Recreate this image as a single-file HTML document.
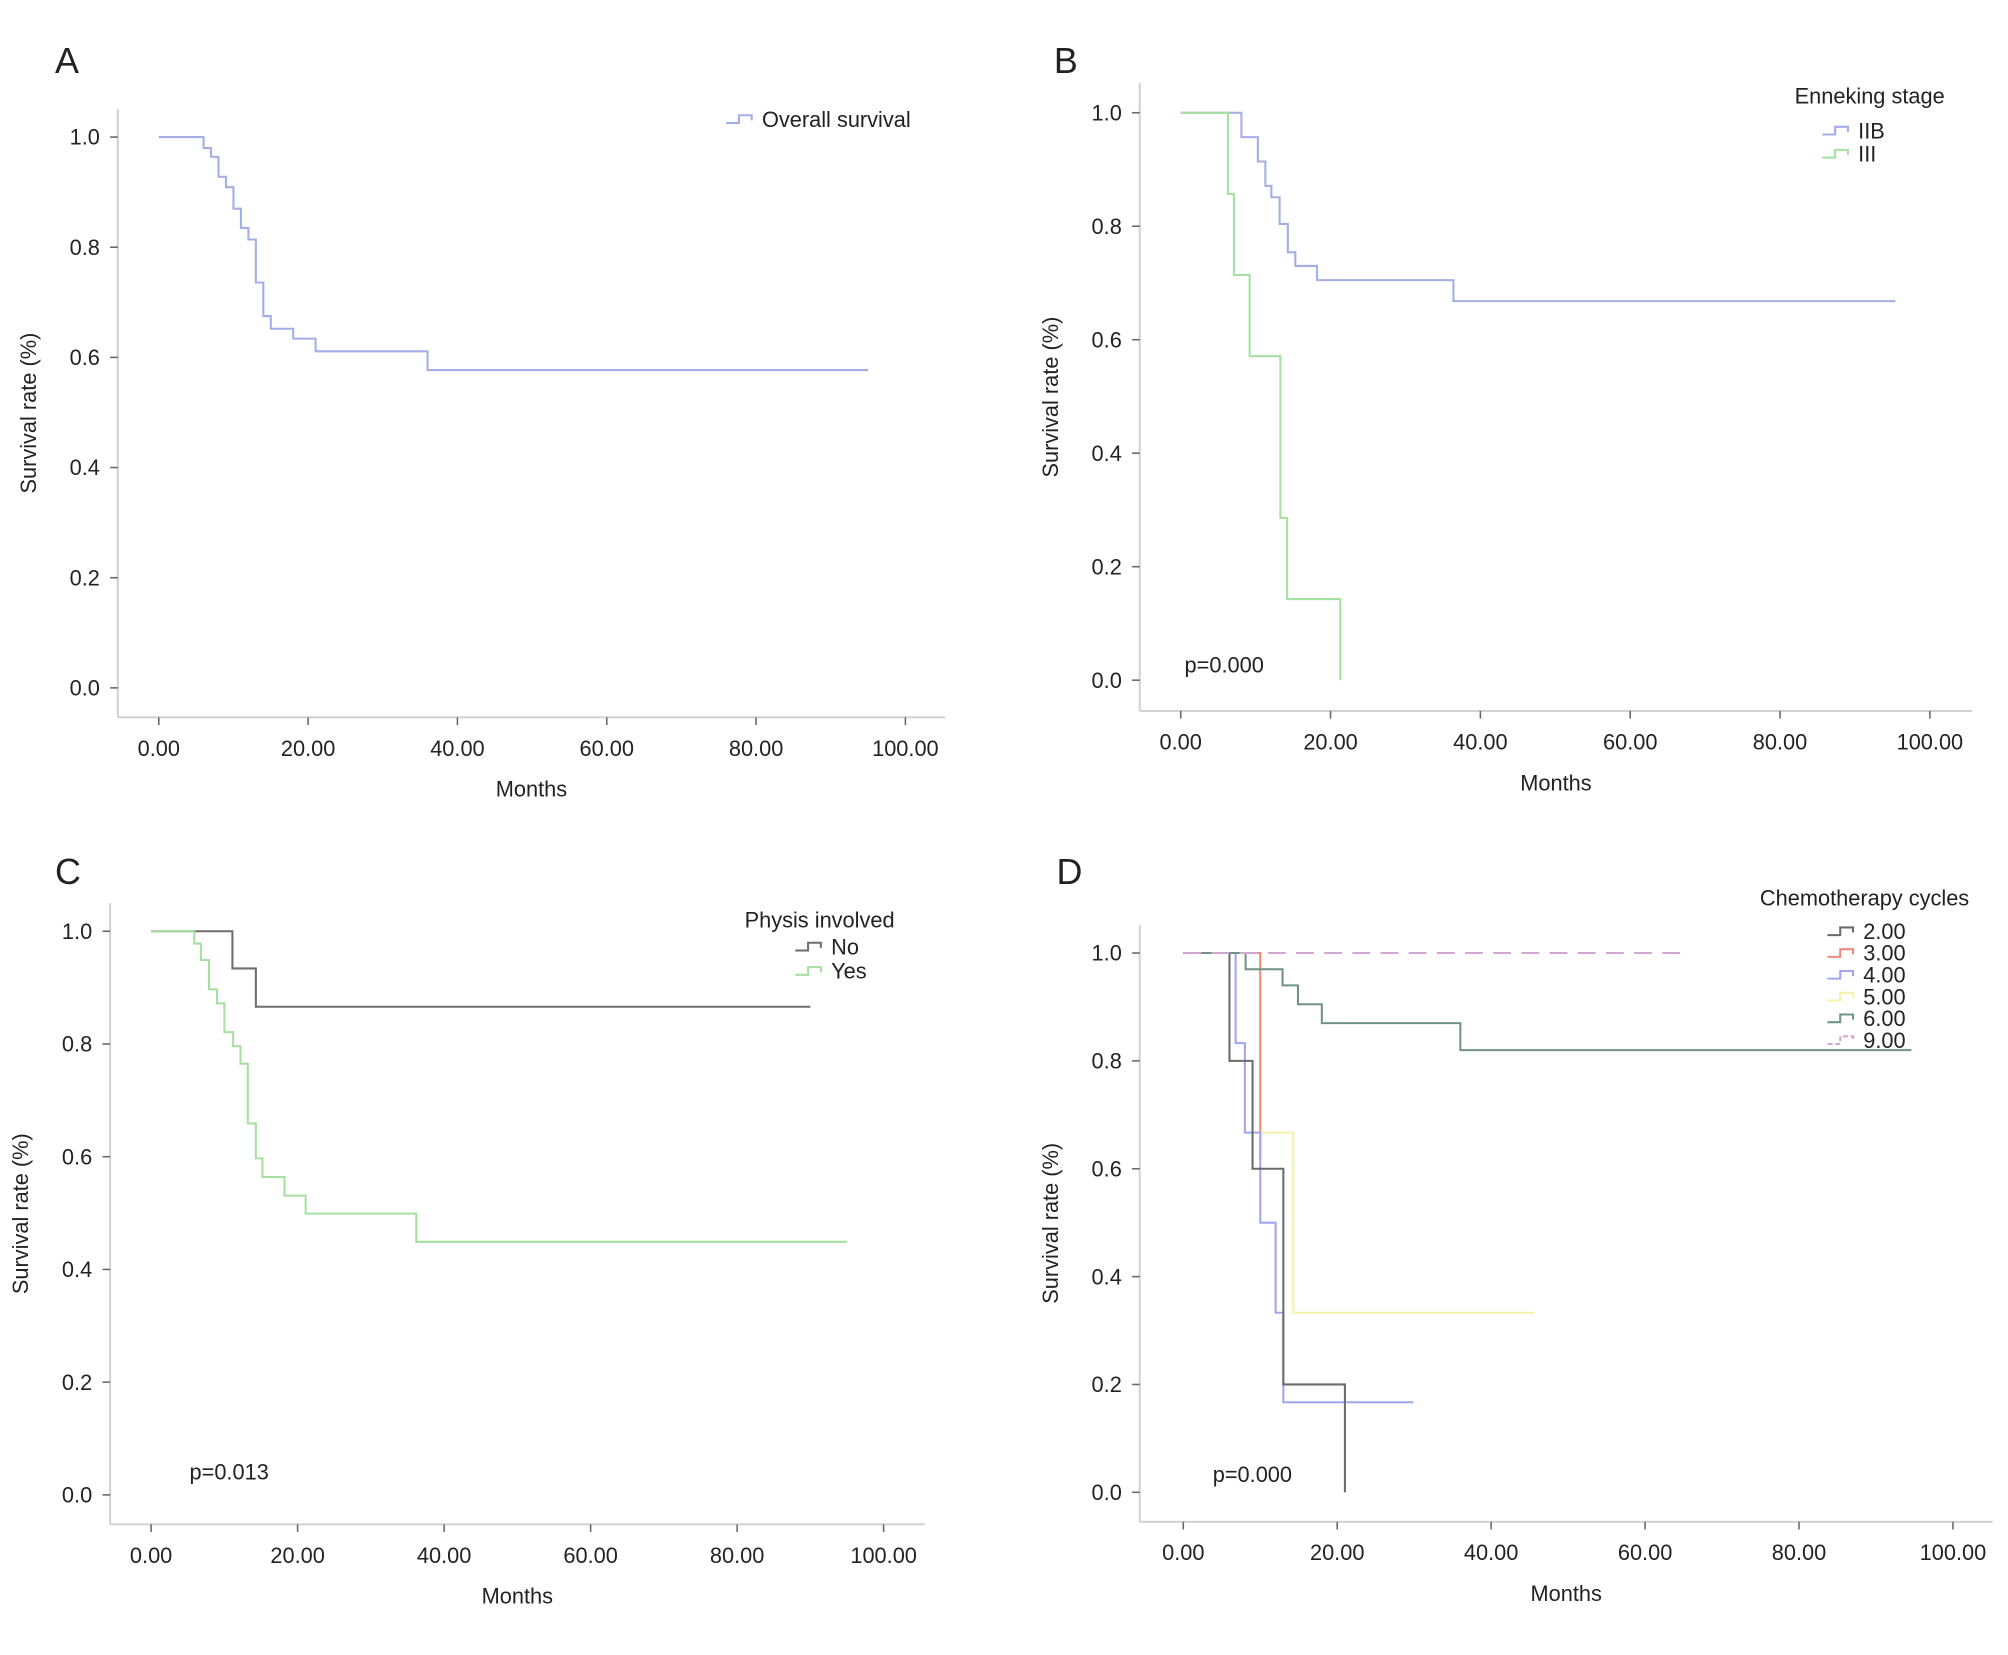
<!DOCTYPE html>
<html><head><meta charset="utf-8"><style>
html,body{margin:0;padding:0;background:#fff}
svg{display:block}
text{font-family:"Liberation Sans",sans-serif;fill:#222}
</style></head><body>
<svg id="fig" width="2008" height="1655" viewBox="0 0 1568 1292" preserveAspectRatio="none" xmlns="http://www.w3.org/2000/svg"></svg>
<script>
// ---- data ----
const xTicks = [0,20,40,60,80,100];
const xTickLabels = ["0.00","20.00","40.00","60.00","80.00","100.00"];
const yTicks = [0,0.2,0.4,0.6,0.8,1.0];
const yTickLabels = ["0.0","0.2","0.4","0.6","0.8","1.0"];

const aOverallTimes = [6,7,8,9,10,11,12,13,14,15,18,21,36];
const aOverallLevels = [0.98,0.964,0.928,0.909,0.87,0.835,0.814,0.736,0.675,0.652,0.634,0.611,0.577];
const aOverallEnd = 95;

const bIIBTimes = [8.1,10.3,11.3,12.1,13.2,14.3,15.3,18.2,36.4];
const bIIBLevels = [0.957,0.914,0.871,0.851,0.804,0.754,0.73,0.705,0.668];
const bIIBEnd = 95.4;
const bIIITimes = [6.3,7.1,9.2,13.3,14.2,21.3];
const bIIILevels = [0.857,0.714,0.571,0.286,0.143,0];
const bIIIEnd = 21.3;

const cNoTimes = [11.1,14.3];
const cNoLevels = [0.934,0.866];
const cNoEnd = 90;
const cYesTimes = [5.9,6.8,7.9,9.0,10.0,11.2,12.2,13.2,14.3,15.2,18.2,21.1,36.2];
const cYesLevels = [0.978,0.949,0.897,0.872,0.821,0.796,0.765,0.659,0.597,0.564,0.531,0.499,0.449];
const cYesEnd = 95;

const d2Times = [6,9,13,21];
const d2Levels = [0.8,0.6,0.2,0];
const d2End = 21;
const d3Times = [10];
const d3Levels = [0.62];
const d3End = 10;
const d4Times = [6.8,8,10,12,13];
const d4Levels = [0.833,0.667,0.5,0.333,0.167];
const d4End = 29.9;
const d5Times = [10,14.3];
const d5Levels = [0.667,0.333];
const d5End = 45.6;
const d6Times = [8.1,12.9,14.9,18,36];
const d6Levels = [0.97,0.94,0.905,0.87,0.82];
const d6End = 94.6;
const d9Times = [];
const d9Levels = [];
const d9End = 64.9;

const NS="http://www.w3.org/2000/svg";
const svg=document.getElementById('fig');
function mk(tag,attrs,parent){const e=document.createElementNS(NS,tag);for(const k in attrs)e.setAttribute(k,attrs[k]);(parent||svg).appendChild(e);return e;}
function txt(s,attrs,parent){const e=mk('text',attrs,parent);e.textContent=s;return e;}

function panel(p){
  const g=mk('g',{});
  
  
  const sx=v=>p.x0+(p.x100-p.x0)*v/100;
  const sy=v=>p.y0+(p.y1-p.y0)*v;
  const t=txt(p.id,{x:p.lx,y:p.ly,'font-size':28},g);
  
  
  const ya=mk('line',{x1:p.ax,y1:p.ytop,x2:p.ax,y2:p.ay,stroke:'#cfcfcf','stroke-width':1.5},g);
  
  
  const xa=mk('line',{x1:p.ax,y1:p.ay,x2:p.xright,y2:p.ay,stroke:'#cfcfcf','stroke-width':1.5},g);
  
  
  yTicks.forEach((v,i)=>{
    mk('line',{x1:p.ax-6,y1:sy(v),x2:p.ax,y2:sy(v),stroke:'#666','stroke-width':1.2},g);
    const l=txt(yTickLabels[i],{x:p.ax-14,y:sy(v)+6,'font-size':17,'text-anchor':'end'},g);
    
    
  });
  xTicks.forEach((v,i)=>{
    mk('line',{x1:sx(v),y1:p.ay,x2:sx(v),y2:p.ay+6,stroke:'#666','stroke-width':1.2},g);
    const l=txt(xTickLabels[i],{x:sx(v),y:p.ay+30,'font-size':17,'text-anchor':'middle'},g);
    
    
  });
  const xt=txt('Months',{x:(p.ax+p.xright)/2,y:p.ay+62,'font-size':17,'text-anchor':'middle'},g);
  
  
  const cy=(p.ytop+p.ay)/2;
  const yt=txt('Survival rate (%)',{x:p.ax-64,y:cy,'font-size':17,'text-anchor':'middle',transform:'rotate(-90 '+(p.ax-64)+' '+cy+')'},g);
  
  
  const order=p.drawOrder||p.series.map((s,i)=>i);
  order.forEach(i=>{
    const s=p.series[i];
    let d='M'+sx(0)+' '+sy(1);
    s.t.forEach((tv,j)=>{d+=' H'+sx(tv)+' V'+sy(s.l[j]);});
    d+=' H'+sx(s.end);
    const path=mk('path',{d:d,fill:'none',stroke:s.c,'stroke-width':s.w||1.6,'stroke-dasharray':s.dash||'none'},g);
    
    
  });
  if(p.pval){const pv=txt(p.pval,{x:p.px,y:p.py,'font-size':17},g);
    
    }
  if(p.legTitle){const lt=txt(p.legTitle,{x:p.ltx,y:p.lty,'font-size':17,'text-anchor':'middle'},g);
    
    }
  p.series.forEach((s,i)=>{
    if(!s.label)return;
    const y=p.legY+i*p.legDy;
    const x=p.legX;
    mk('path',{d:'M'+(x-28)+' '+(y-3)+' H'+(x-18)+' V'+(y-9)+' H'+(x-8)+' V'+(y-5),fill:'none',stroke:s.c,'stroke-width':1.6,'stroke-dasharray':s.dash?'4 2':'none'},g);
    const le=txt(s.label,{x:x,y:y,'font-size':17},g);
    
    
  });
}

const BLUE='#a3aee6', GREEN='#a6e0a0';
panel({id:'A',lx:43,ly:57,x0:124,x100:707,y1:107,y0:537,ax:92,ay:560,ytop:85,xright:738,
  series:[{name:'overall',t:aOverallTimes,l:aOverallLevels,end:aOverallEnd,c:BLUE,label:'Overall survival'}],
  legX:595,legY:99,legDy:18});
panel({id:'B',lx:823,ly:57,x0:922,x100:1507,y1:88,y0:531,ax:890,ay:555,ytop:65,xright:1540,
  series:[{name:'iib',t:bIIBTimes,l:bIIBLevels,end:bIIBEnd,c:BLUE,label:'IIB'},
          {name:'iii',t:bIIITimes,l:bIIILevels,end:bIIIEnd,c:GREEN,label:'III'}],
  pval:'p=0.000',px:925,py:525,legTitle:'Enneking stage',ltx:1460,lty:81,legX:1451,legY:108,legDy:18});
panel({id:'C',lx:43,ly:690,x0:118,x100:690,y1:727,y0:1167,ax:86,ay:1190,ytop:705,xright:722,
  series:[{name:'no',t:cNoTimes,l:cNoLevels,end:cNoEnd,c:'#6e6e6e',label:'No'},
          {name:'yes',t:cYesTimes,l:cYesLevels,end:cYesEnd,c:GREEN,label:'Yes'}],
  pval:'p=0.013',px:148,py:1155,legTitle:'Physis involved',ltx:640,lty:724,legX:649,legY:745,legDy:19});
panel({id:'D',lx:825,ly:690,x0:924,x100:1525,y1:744,y0:1165,ax:890,ay:1188,ytop:722,xright:1556,
  series:[{name:'2-cycles',t:d2Times,l:d2Levels,end:d2End,c:'#6b6b6b',label:'2.00'},
          {name:'3-cycles',t:d3Times,l:d3Levels,end:d3End,c:'#f08a7a',label:'3.00'},
          {name:'4-cycles',t:d4Times,l:d4Levels,end:d4End,c:'#9fa6f0',label:'4.00'},
          {name:'5-cycles',t:d5Times,l:d5Levels,end:d5End,c:'#f6f3a8',label:'5.00'},
          {name:'6-cycles',t:d6Times,l:d6Levels,end:d6End,c:'#6f9484',label:'6.00'},
          {name:'9-cycles',t:d9Times,l:d9Levels,end:d9End,c:'#d2a8d2',label:'9.00',dash:'14 8'}],
  drawOrder:[3,1,2,0,4,5],
  pval:'p=0.000',px:947,py:1157,legTitle:'Chemotherapy cycles',ltx:1456,lty:707,legX:1455,legY:733,legDy:17});
</script>
</body></html>
